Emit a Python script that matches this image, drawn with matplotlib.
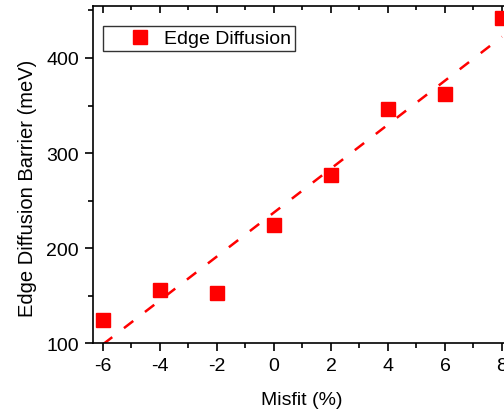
import numpy as np
import matplotlib
matplotlib.use('Agg')
import matplotlib.pyplot as plt
from matplotlib.ticker import MultipleLocator

# == Data ===================================================
misfit = [-6, -4, -2, 0, 2, 4, 6, 8]
barrier = [125, 156, 153, 224, 277, 346, 362, 442]
series_label = 'Edge Diffusion'
# ===========================================================

plt.rcParams['font.family'] = ['Liberation Sans', 'DejaVu Sans']
plt.rcParams['font.size'] = 14
plt.rcParams['axes.unicode_minus'] = False

fig = plt.figure(figsize=(5.04, 4.14), dpi=100)
ax = fig.add_axes([0.1845, 0.1684, 0.8284, 0.8146])

# Linear fit (dashed line)
slope, icpt = np.polyfit(misfit, barrier, 1)
xfit = np.array([misfit[0], misfit[-1]])
ax.plot(xfit, slope * xfit + icpt, color='red', lw=1.8,
        linestyle=(0, (4.7, 5.9)), dash_capstyle='butt', zorder=2)

# Data points
ax.plot(misfit, barrier, 's', color='red', markersize=10,
        label=series_label, zorder=3)

ax.set_xlim(-6.35, 8.3)
ax.set_ylim(100, 454.6)
ax.xaxis.set_major_locator(MultipleLocator(2))
ax.xaxis.set_minor_locator(MultipleLocator(1))
ax.yaxis.set_major_locator(MultipleLocator(100))
ax.yaxis.set_minor_locator(MultipleLocator(50))

ax.tick_params(which='both', direction='out', width=1.2, labelsize=14,
               top=True, right=False)
ax.tick_params(which='major', length=6, pad=4)
ax.tick_params(which='minor', length=3.5)
# top ticks point inward
for t in ax.xaxis.get_major_ticks():
    t.tick2line.set_marker(3)  # TICKDOWN
    t.tick2line.set_markersize(5)
for t in ax.xaxis.get_minor_ticks():
    t.tick2line.set_marker(3)
    t.tick2line.set_markersize(3)

for s in ax.spines.values():
    s.set_linewidth(1.2)
ax.spines['right'].set_visible(False)

ax.set_xlabel('Misfit (%)', fontsize=14, labelpad=12)
ax.set_ylabel('Edge Diffusion Barrier (meV)', fontsize=14.5)
ax.yaxis.set_label_coords(-0.135, 0.463)

leg = ax.legend(loc='upper left', bbox_to_anchor=(0.024, 0.941),
                frameon=True, fancybox=False, edgecolor='black',
                handlelength=3.4, handletextpad=-0.46, borderpad=0.2,
                borderaxespad=0.0, fontsize=14, markerscale=0.94)
leg.get_frame().set_linewidth(1.0)

fig.savefig('out.png', dpi=100)
